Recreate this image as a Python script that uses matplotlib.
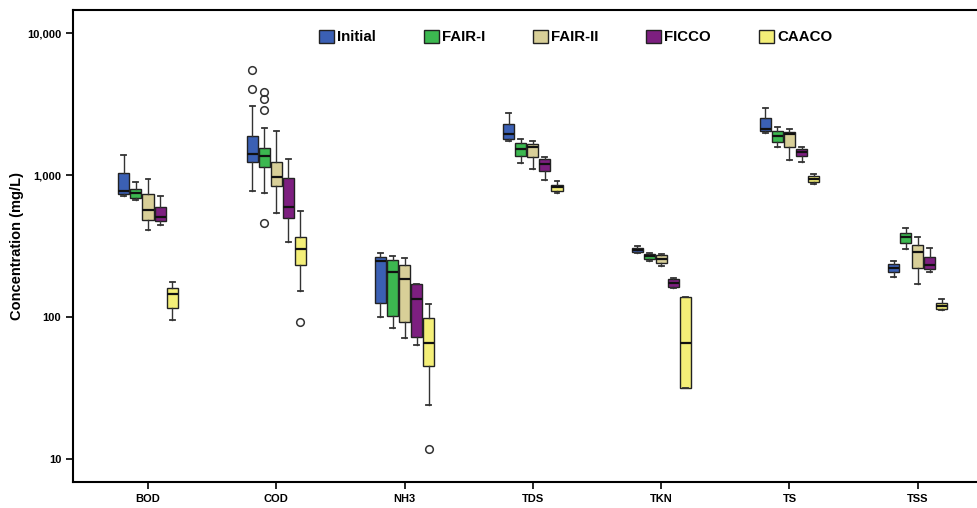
import numpy as np
import matplotlib.pyplot as plt
from matplotlib.patches import Patch
from matplotlib.ticker import FixedLocator, NullLocator

plt.rcParams['font.family'] = ['Liberation Sans', 'DejaVu Sans']
plt.rcParams['font.weight'] = 'bold'

# parametros y tratamientos
params = ['BOD', 'COD', 'NH3', 'TDS', 'TKN', 'TS', 'TSS']
groups = ['Initial', 'FAIR-I', 'FAIR-II', 'FICCO', 'CAACO']
colors = ['#3b60b4', '#3cb850', '#d8cf98', '#7d1f80', '#f4ef78']

# estadisticos (filas = parametros, columnas = tratamientos)
whislo = [[714, 670, 412, 445, 95],
          [771, 747, 540, 337, 153],
          [100, 83.5, 71, 64, 24],
          [1734, 1216, 1102, 926, 754],
          [282, 249, 231, 160, 31.6],
          [1976, 1574, 1282, 1248, 869],
          [191, 304, 172, 210, 113]]
q1 = [[738, 689, 482, 474, 116],
      [1241, 1151, 841, 502, 232],
      [127, 102, 92, 73, 45.4],
      [1803, 1374, 1352, 1072, 775],
      [288, 258, 240, 163, 31.6],
      [2041, 1725, 1574, 1367, 893],
      [210, 332, 222, 219, 114]]
med = [[776, 747, 570, 511, 146],
       [1413, 1367, 977, 601, 301],
       [251, 210, 185, 134, 65.6],
       [1944, 1523, 1589, 1194, 823],
       [298, 270, 256, 175, 66.2],
       [2107, 1892, 1963, 1459, 946],
       [224, 370, 287, 233, 120]]
q3 = [[1037, 796, 735, 596, 162],
      [1884, 1556, 1241, 957, 370],
      [267, 254, 233, 171, 98.4],
      [2287, 1698, 1671, 1303, 859],
      [309, 279, 274, 185, 140],
      [2518, 2050, 2009, 1523, 988],
      [237, 394, 323, 267, 126]]
whishi = [[1390, 897, 942, 711, 177],
          [3075, 2163, 2061, 1297, 557],
          [282, 270, 260, 171, 124],
          [2733, 1790, 1734, 1352, 912],
          [318, 285, 279, 190, 140],
          [2993, 2198, 2118, 1574, 1021],
          [249, 426, 366, 307, 134]]
# valores atipicos: (parametro, tratamiento, valores)
outliers = [(1, 0, [5490, 4040]),
            (1, 1, [3860, 3430, 2870, 461]),
            (1, 4, [92]),
            (2, 4, [11.9])]

fig = plt.figure(figsize=(9.78, 5.08), dpi=100)
ax = fig.add_axes([0.0746, 0.0512, 0.926, 0.9291])

offset = 0.094
width = 0.086
for j, g in enumerate(groups):
    stats = []
    for i in range(len(params)):
        fl = []
        for (pi, gj, vals) in outliers:
            if pi == i and gj == j:
                fl = vals
        stats.append(dict(whislo=whislo[i][j], q1=q1[i][j], med=med[i][j],
                          q3=q3[i][j], whishi=whishi[i][j], fliers=fl))
    pos = np.arange(len(params)) + (j - 2) * offset
    ax.bxp(stats, positions=pos, widths=width, patch_artist=True,
           manage_ticks=False, capwidths=width * 0.45,
           boxprops=dict(facecolor=colors[j], edgecolor='#222222', linewidth=1.0),
           medianprops=dict(color='#111111', linewidth=1.6),
           whiskerprops=dict(color='#333333', linewidth=1.0),
           capprops=dict(color='#333333', linewidth=1.3),
           flierprops=dict(marker='o', markerfacecolor='none',
                           markeredgecolor='#333333', markersize=5.5,
                           markeredgewidth=1.1))

ax.set_yscale('log')
ax.set_ylim(6.92, 14590)
ax.set_xlim(-0.585, 6.474)
ax.yaxis.set_major_locator(FixedLocator([10, 100, 1000, 10000]))
ax.yaxis.set_minor_locator(NullLocator())
ax.set_yticklabels(['10', '100', '1,000', '10,000'])
ax.set_xticks(np.arange(len(params)))
ax.set_xticklabels(params)
ax.tick_params(axis='both', labelsize=8, length=5, width=1.2)
ax.set_ylabel('Concentration (mg/L)', fontsize=10.5, fontweight='bold', labelpad=2)

for s in ['left', 'bottom', 'top']:
    ax.spines[s].set_linewidth(1.5)
ax.spines['right'].set_visible(False)

handles = [Patch(facecolor=c, edgecolor='#222222', linewidth=1.0, label=g)
           for g, c in zip(groups, colors)]
ax.legend(handles=handles, loc='upper center', bbox_to_anchor=(0.555, 0.987),
          ncol=5, frameon=False, handlelength=1.0,
          handleheight=1.0, handletextpad=0.2, columnspacing=3.2,
          prop=dict(weight='bold', size=10.8))

fig.savefig('out.png', dpi=100)
